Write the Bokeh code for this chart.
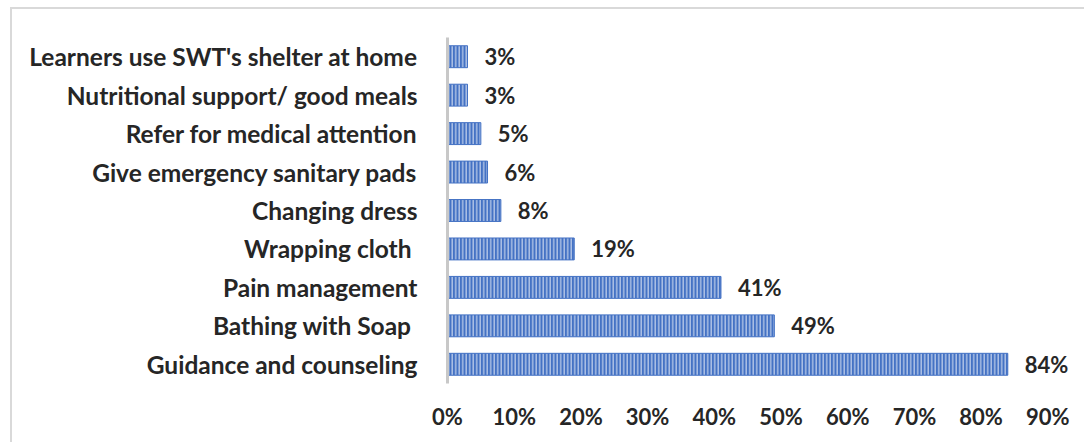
from bokeh.plotting import figure
from bokeh.models import FixedTicker, Range1d, ColumnDataSource
from bokeh.core.properties import value
from bokeh.embed import file_html
from bokeh.resources import INLINE

# Support given to learners (share of respondents, %)
categories = [
    "Learners use SWT's shelter at home",
    "Nutritional support/ good meals",
    "Refer for medical attention",
    "Give emergency sanitary pads",
    "Changing dress",
    "Wrapping cloth ",
    "Pain management",
    "Bathing with Soap ",
    "Guidance and counseling",
]
percentages = [3, 3, 5, 6, 8, 19, 41, 49, 84]
tick_values = [0, 10, 20, 30, 40, 50, 60, 70, 80, 90]
tick_labels = ["0%", "10%", "20%", "30%", "40%", "50%", "60%", "70%", "80%", "90%"]

FONT = "Lato"
TEXT_COLOR = "#262626"
BAR_COLOR = "#4472C4"

order = list(reversed(categories))
source = ColumnDataSource(dict(
    cat=categories,
    pct=percentages,
    lbl=[f"{v}%" for v in percentages],
))

p = figure(
    width=1074, height=435,
    y_range=order,
    x_range=Range1d(0, 94.9),
    output_backend="svg",
    toolbar_location=None,
    min_border_left=435, min_border_right=6,
    min_border_top=28, min_border_bottom=61,
    outline_line_color=None,
    background_fill_color="white",
    border_fill_color="white",
)
# light grey chart border along the top and left edges
p.margin = (7, 0, 0, 10)
p.styles = {
    "border-top": "2px solid #d9d9d9",
    "border-left": "2px solid #d9d9d9",
}

p.hbar(
    y="cat", right="pct", left=0, height=0.57, source=source,
    fill_color=BAR_COLOR, line_color=BAR_COLOR, line_width=1,
    hatch_pattern="vertical_line", hatch_color="white",
    hatch_alpha=0.55, hatch_scale=3.5, hatch_weight=1.5,
)

p.text(
    x="pct", y="cat", text="lbl", source=source,
    x_offset=17, text_align="left", text_baseline="middle",
    text_font=value(FONT), text_font_style="bold",
    text_font_size="22px", text_color=TEXT_COLOR,
)

# y axis: category names
p.yaxis.axis_line_color = "#c8c8c8"
p.yaxis.axis_line_width = 3
p.yaxis.major_tick_line_color = None
p.yaxis.minor_tick_line_color = None
p.yaxis.major_label_standoff = 24
p.yaxis.major_label_text_font = FONT
p.yaxis.major_label_text_font_style = "bold"
p.yaxis.major_label_text_font_size = "24.5px"
p.yaxis.major_label_text_color = TEXT_COLOR

# x axis: percentage scale, no line
p.xaxis.ticker = FixedTicker(ticks=tick_values)
p.xaxis.major_label_overrides = dict(zip(tick_values, tick_labels))
p.xaxis.axis_line_color = None
p.xaxis.major_tick_line_color = None
p.xaxis.minor_tick_line_color = None
p.xaxis.major_label_standoff = 13
p.xaxis.major_label_text_font = FONT
p.xaxis.major_label_text_font_style = "bold"
p.xaxis.major_label_text_font_size = "22px"
p.xaxis.major_label_text_color = TEXT_COLOR

p.xgrid.grid_line_color = None
p.ygrid.grid_line_color = None

open("out.html", "w").write(file_html(p, INLINE))
